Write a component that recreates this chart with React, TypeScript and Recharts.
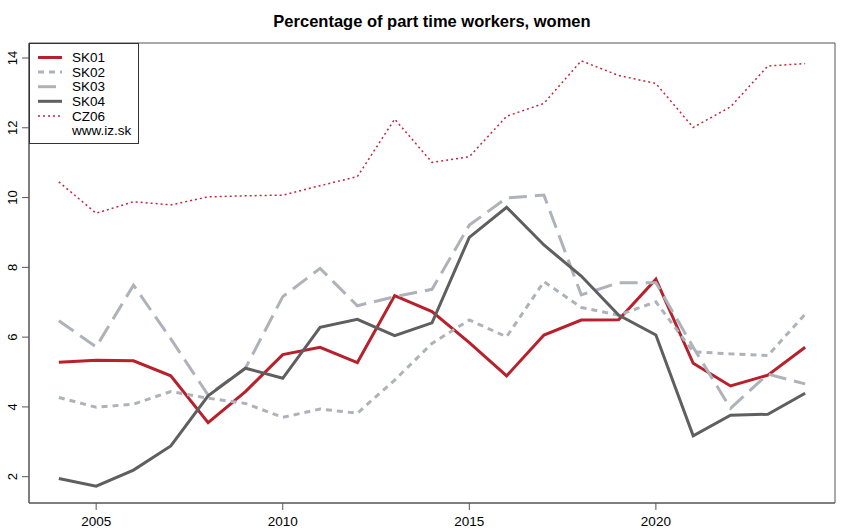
import React from 'react';
import { LineChart, Line, XAxis, YAxis, Legend, ReferenceArea } from 'recharts';

const years = [2004, 2005, 2006, 2007, 2008, 2009, 2010, 2011, 2012, 2013, 2014, 2015, 2016, 2017, 2018, 2019, 2020, 2021, 2022, 2023, 2024];
const sk01 = [5.28, 5.34, 5.32, 4.89, 3.55, 4.44, 5.5, 5.71, 5.27, 7.19, 6.73, 5.84, 4.89, 6.06, 6.49, 6.5, 7.66, 5.25, 4.6, 4.91, 5.71];
const sk02 = [4.27, 3.99, 4.08, 4.44, 4.25, 4.1, 3.7, 3.94, 3.82, 4.77, 5.82, 6.49, 6.01, 7.59, 6.85, 6.63, 7.01, 5.58, 5.52, 5.47, 6.66];
const sk03 = [6.47, 5.72, 7.49, 5.95, 4.34, 5.11, 7.16, 7.97, 6.9, 7.16, 7.37, 9.21, 9.99, 10.07, 7.21, 7.56, 7.56, 5.71, 3.96, 4.94, 4.66];
const sk04 = [1.95, 1.73, 2.19, 2.88, 4.32, 5.11, 4.82, 6.28, 6.51, 6.04, 6.41, 8.86, 9.72, 8.64, 7.75, 6.63, 6.06, 3.17, 3.76, 3.79, 4.39];
const cz06 = [10.45, 9.55, 9.88, 9.79, 10.02, 10.05, 10.07, 10.34, 10.6, 12.25, 11.01, 11.17, 12.33, 12.7, 13.92, 13.5, 13.27, 12.01, 12.6, 13.77, 13.84];

const xTicks = [2005, 2010, 2015, 2020];
const yTicks = [2, 4, 6, 8, 10, 12, 14];
const title = 'Percentage of part time workers, women';
const credit = 'www.iz.sk';

const data = years.map((y, i) => ({
  year: y,
  SK01: sk01[i],
  SK02: sk02[i],
  SK03: sk03[i],
  SK04: sk04[i],
  CZ06: cz06[i],
}));

const xDomain: [number, number] = [2003.2, 2024.8];
const yDomain: [number, number] = [1.246, 14.43];

const FONT = '"Liberation Sans", Arial, Helvetica, sans-serif';
const AXIS = '#555';

const series = [
  { key: 'SK01', color: '#b8202b', width: 3, dash: undefined as string | undefined },
  { key: 'SK02', color: '#aeb3ba', width: 3, dash: '6 5' },
  { key: 'SK03', color: '#aeb3ba', width: 3, dash: '18 8' },
  { key: 'SK04', color: '#5f5f5f', width: 3, dash: undefined as string | undefined },
  { key: 'CZ06', color: '#c0283a', width: 1.5, dash: '2 3' },
];

const YTick = (props: any) => {
  const { x, y, payload } = props;
  return (
    <text
      x={x - 3}
      y={y}
      transform={`rotate(-90, ${x - 3}, ${y})`}
      textAnchor="middle"
      fontSize={13}
      fontFamily={FONT}
      fill="#000"
    >
      {payload.value}
    </text>
  );
};

const XTick = (props: any) => {
  const { x, y, payload } = props;
  return (
    <text x={x} y={y + 13.5} textAnchor="middle" fontSize={13.5} fontFamily={FONT} fill="#000">
      {payload.value}
    </text>
  );
};

const LegendBox = () => {
  const rowH = 14.6;
  return (
    <svg width={110} height={101} style={{ display: 'block' }}>
      <rect x={0.5} y={0.5} width={109} height={100} fill="#fff" stroke="#333" strokeWidth={1} />
      {series.map((s, i) => {
        const cy = 14.5 + i * rowH;
        return (
          <g key={s.key}>
            <line x1={9} x2={33} y1={cy} y2={cy} stroke={s.color} strokeWidth={s.width} strokeDasharray={s.dash} />
            <text x={43} y={cy + 4.7} fontSize={13.5} fontFamily={FONT} fill="#000">
              {s.key}
            </text>
          </g>
        );
      })}
      <text x={43} y={14.5 + 5 * rowH + 4.7} fontSize={13.5} fontFamily={FONT} fill="#000">
        {credit}
      </text>
    </svg>
  );
};

export default function App() {
  return (
    <div style={{ position: 'absolute', left: 0, top: 0, width: 850, height: 532, background: '#fff' }}>
      <div
        style={{
          position: 'absolute',
          left: 29,
          width: 806,
          top: 10,
          textAlign: 'center',
          fontFamily: FONT,
          fontWeight: 'bold',
          fontSize: 16.5,
          color: '#000',
          lineHeight: '22px',
        }}
      >
        {title}
      </div>
      <LineChart width={850} height={532} data={data} margin={{ top: 43, right: 15, bottom: 0, left: 0 }}>
        <XAxis
          dataKey="year"
          type="number"
          domain={xDomain}
          ticks={xTicks}
          allowDataOverflow
          height={29}
          tickSize={7}
          tickLine={{ stroke: AXIS }}
          axisLine={{ stroke: AXIS }}
          tick={<XTick />}
          interval={0}
        />
        <YAxis
          type="number"
          domain={yDomain}
          ticks={yTicks}
          allowDataOverflow
          width={29}
          tickSize={7}
          tickMargin={2}
          tickLine={{ stroke: AXIS }}
          axisLine={{ stroke: AXIS }}
          tick={<YTick />}
          interval={0}
        />
        <ReferenceArea
          x1={xDomain[0]}
          x2={xDomain[1]}
          y1={yDomain[0]}
          y2={yDomain[1]}
          fill="none"
          stroke={AXIS}
          strokeWidth={1}
          ifOverflow="visible"
        />
        {series.map((s) => (
          <Line
            key={s.key}
            dataKey={s.key}
            type="linear"
            stroke={s.color}
            strokeWidth={s.width}
            strokeDasharray={s.dash}
            dot={false}
            activeDot={false}
            isAnimationActive={false}
          />
        ))}
        <Legend
          layout="vertical"
          align="center"
          verticalAlign="middle"
          content={() => <LegendBox />}
          wrapperStyle={{ position: 'absolute', left: 29, top: 43, width: 110, height: 101, margin: 0, padding: 0 }}
        />
      </LineChart>
    </div>
  );
}
